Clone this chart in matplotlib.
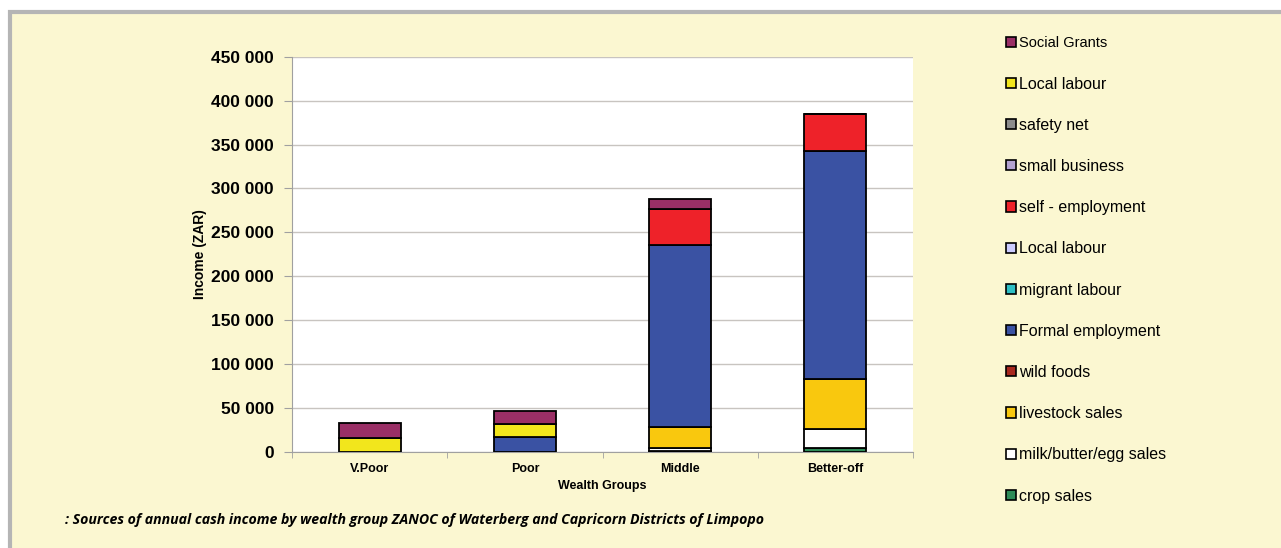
import matplotlib.pyplot as plt
import numpy as np
from matplotlib.patches import Rectangle, Patch

groups = ["V.Poor", "Poor", "Middle", "Better-off"]

# income sources, in stacking order (bottom to top)
sources = ["crop sales", "milk/butter/egg sales", "livestock sales", "wild foods",
           "Formal employment", "migrant labour", "Local labour", "self - employment",
           "small business", "safety net", "Local labour", "Social Grants"]
crop_sales = [0, 0, 800, 4000]
milk_sales = [0, 0, 3700, 21500]
livestock_sales = [0, 0, 23300, 57500]
wild_foods = [0, 0, 0, 0]
formal_employment = [0, 17100, 207600, 259800]
migrant_labour = [0, 0, 0, 0]
local_labour_b = [0, 0, 0, 0]
self_employment = [0, 0, 40700, 41800]
small_business = [0, 0, 0, 0]
safety_net = [0, 0, 0, 0]
local_labour_a = [15300, 14400, 0, 0]
social_grants = [17700, 14850, 11700, 0]

values = [crop_sales, milk_sales, livestock_sales, wild_foods, formal_employment,
          migrant_labour, local_labour_b, self_employment, small_business,
          safety_net, local_labour_a, social_grants]
colors = ["#2E8B57", "#FFFFFF", "#F9C80E", "#A8281E", "#3A52A3", "#2EBFC4",
          "#CCCCFF", "#EE2229", "#B3A2D1", "#8C8C8C", "#F2E61C", "#9A2F66"]

bg = "#FBF7D1"
plt.rcParams['font.family'] = ['Liberation Sans', 'DejaVu Sans']

fig = plt.figure(figsize=(12.81, 5.48), dpi=100)
fig.patch.set_facecolor("white")
# framed cream panel
fig.patches.append(Rectangle((10 / 1281, -0.01), 1.01, (548 - 12) / 548 + 0.01,
                             transform=fig.transFigure, facecolor=bg,
                             edgecolor="#B5B5B5", linewidth=3, zorder=-1))

ax = fig.add_axes([292 / 1281, 96.3 / 548, 621 / 1281, 394.9 / 548])
ax.set_facecolor("white")

x = np.arange(len(groups))
bottom = np.zeros(len(groups))
for vals, col in zip(values, colors):
    vals = np.array(vals, dtype=float)
    ax.bar(x, vals, 0.4, bottom=bottom, color=col, edgecolor="black",
           linewidth=1.3, zorder=3)
    bottom += vals

ax.set_xlim(-0.5, 3.5)
ax.set_ylim(0, 450000)
ax.set_yticks(np.arange(0, 450001, 50000))
ax.set_yticklabels([f"{v:,}".replace(",", " ") for v in range(0, 450001, 50000)],
                   fontsize=12.5, fontweight="bold")
ax.yaxis.grid(True, color="#C8C4C0", linewidth=1, zorder=0)
ax.set_xticks(x)
ax.set_xticklabels(groups, fontsize=9, fontweight="bold")
ax.tick_params(axis="x", length=0, pad=8)
ax.set_xticks(np.arange(-0.5, 4, 1), minor=True)
ax.tick_params(axis="x", which="minor", length=4, color="#A0A0A0")
ax.tick_params(axis="y", length=6, color="#A0A0A0", pad=7)
for s in ["top", "right"]:
    ax.spines[s].set_visible(False)
ax.spines["left"].set_color("#A0A0A0")
ax.spines["bottom"].set_color("#A0A0A0")

ax.set_xlabel("Wealth Groups", fontsize=9, fontweight="bold", labelpad=4)
ax.set_ylabel("Income (ZAR)", fontsize=10, fontweight="bold", labelpad=3)

handles = [Patch(facecolor=c, edgecolor="black", linewidth=1.2) for c in colors]
leg = fig.legend(handles[::-1], sources[::-1], loc="upper left",
                 bbox_to_anchor=(992 / 1281, 1 - 22 / 548), frameon=False,
                 fontsize=11.5, handlelength=0.6, handleheight=0.6,
                 handletextpad=0.2, labelspacing=1.64)
leg.get_texts()[0].set_fontsize(10.5)

fig.text(65 / 1281, 1 - 527 / 548,
         ": Sources of annual cash income by wealth group ZANOC of Waterberg and Capricorn Districts of Limpopo",
         fontsize=10.2, fontweight="bold", fontstyle="italic", va="bottom",
         family=["Open Sans", "DejaVu Sans"])

fig.savefig("out.png", dpi=100, facecolor=fig.get_facecolor())
